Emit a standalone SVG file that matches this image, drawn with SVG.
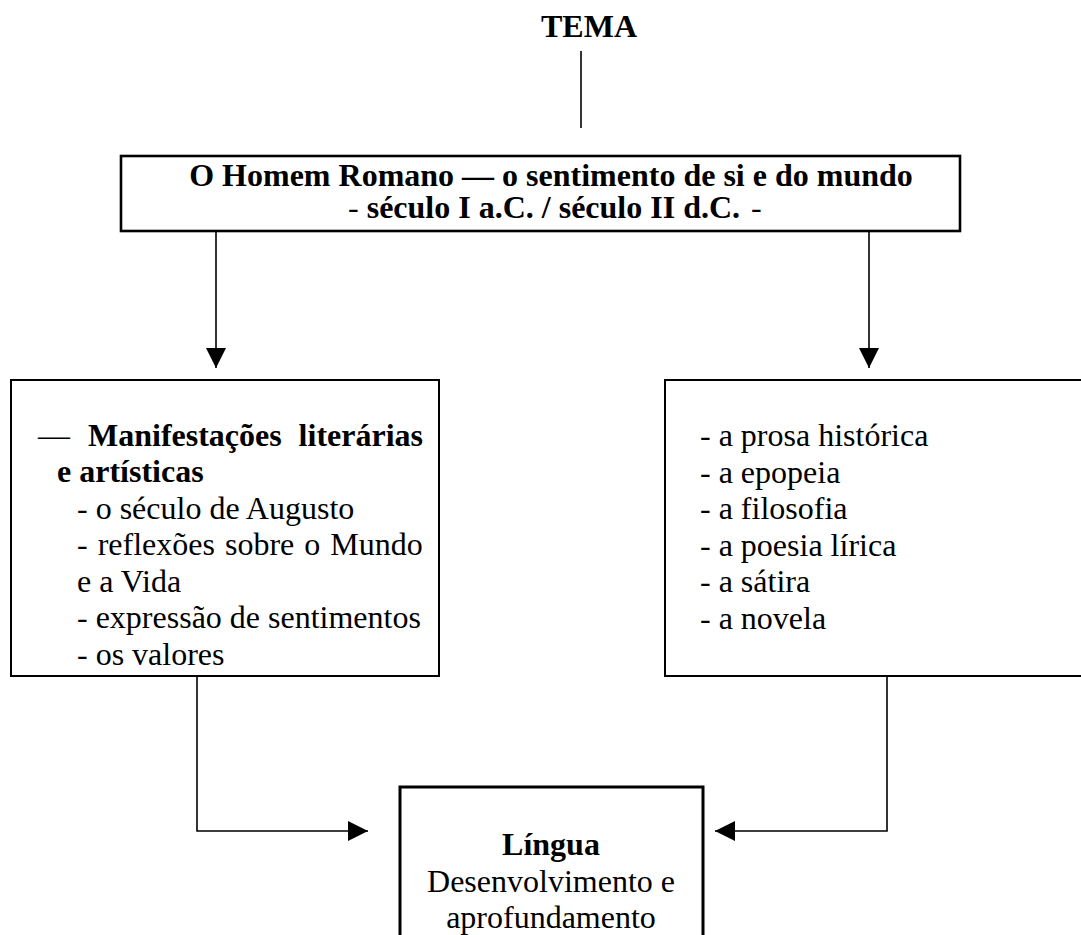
<svg xmlns="http://www.w3.org/2000/svg" width="1081" height="935" viewBox="0 0 1081 935">
<defs>
<style>
text{font-family:"Liberation Serif","Times New Roman",serif;font-size:32px;fill:#000}
.b{font-weight:bold}
.box{fill:#fff;stroke:#000}
.con{fill:none;stroke:#000;stroke-width:1.6}
</style>
<marker id="ah" viewBox="0 0 20 20" refX="20" refY="10" markerWidth="20" markerHeight="20" markerUnits="userSpaceOnUse" orient="auto">
<path d="M0,0 L20,10 L0,20 Z" fill="#000"/>
</marker>
</defs>
<rect width="1081" height="935" fill="#fff"/>
<g id="tema">
<text class="b" x="589" y="37" text-anchor="middle">TEMA</text>
</g>
<g id="connectors">
<line class="con" x1="581" y1="51" x2="581" y2="128"/>
<line class="con" x1="216" y1="231" x2="216" y2="368" marker-end="url(#ah)"/>
<line class="con" x1="869" y1="231" x2="869" y2="368" marker-end="url(#ah)"/>
<polyline class="con" points="197,676 197,831 368,831" marker-end="url(#ah)"/>
<polyline class="con" points="887,676 887,831 715,831" marker-end="url(#ah)"/>
</g>
<g id="homem-romano">
<rect class="box" x="121" y="156" width="839" height="75" stroke-width="2.6"/>
<text class="b" x="551" y="186" text-anchor="middle">O Homem Romano — o sentimento de si e do mundo</text>
<text y="218"><tspan x="348">-</tspan><tspan class="b" x="366.7">século I a.C. / século II d.C.</tspan><tspan x="751">-</tspan></text>
</g>
<g id="manifestacoes">
<rect class="box" x="11" y="380" width="428" height="296" stroke-width="2"/>
<text y="445.5"><tspan x="38">—</tspan><tspan class="b" x="88">Manifestações</tspan><tspan class="b" x="423" text-anchor="end">literárias</tspan></text>
<text class="b" x="57" y="482">e artísticas</text>
<text x="77" y="518.5">- o século de Augusto</text>
<text x="77" y="555" word-spacing="2">- reflexões sobre o Mundo</text>
<text x="77" y="591.5">e a Vida</text>
<text x="77" y="628">- expressão de sentimentos</text>
<text x="77" y="664.5">- os valores</text>
</g>
<g id="generos">
<rect class="box" x="665" y="380" width="430" height="296" stroke-width="2"/>
<text x="700" y="446">- a prosa histórica</text>
<text x="700" y="482.5">- a epopeia</text>
<text x="700" y="519">- a filosofia</text>
<text x="700" y="555.5">- a poesia lírica</text>
<text x="700" y="592">- a sátira</text>
<text x="700" y="628.5">- a novela</text>
</g>
<g id="lingua">
<rect class="box" x="400" y="787" width="303" height="170" stroke-width="3"/>
<text class="b" x="551" y="855" text-anchor="middle">Língua</text>
<text x="551" y="891.5" text-anchor="middle">Desenvolvimento e</text>
<text x="551" y="928" text-anchor="middle">aprofundamento</text>
</g>
</svg>
